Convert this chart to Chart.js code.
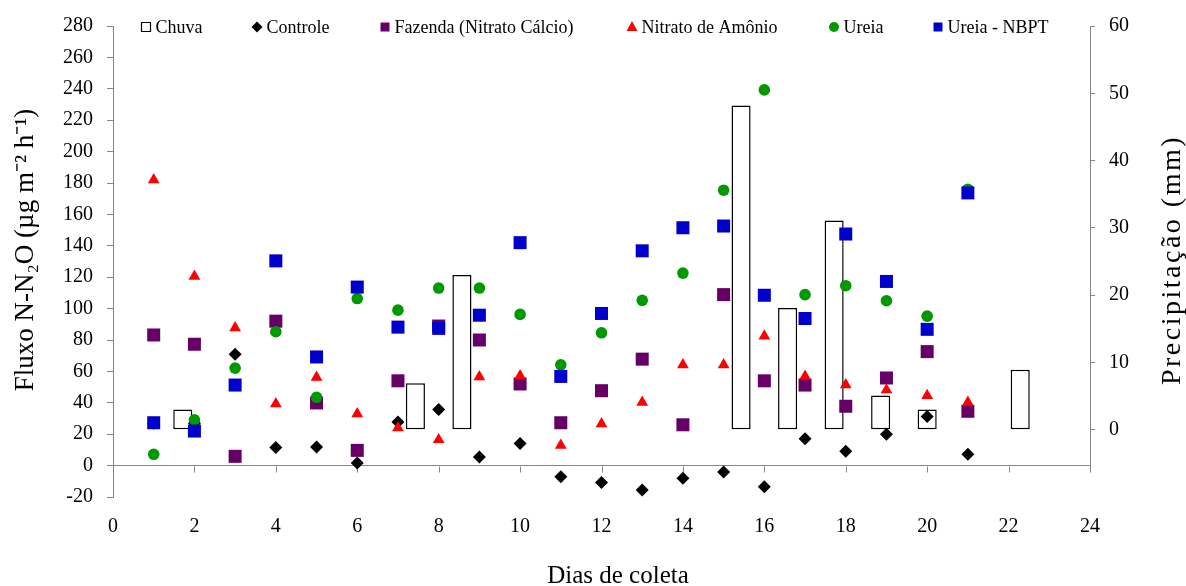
<!DOCTYPE html>
<html>
<head>
<meta charset="utf-8">
<script src="https://cdn.jsdelivr.net/npm/chart.js@4.4.1/dist/chart.umd.min.js"></script>
<style>
  html, body { margin: 0; padding: 0; background: #fff; }
</style>
</head>
<body>
<canvas id="chart" width="1186" height="586"></canvas>
<script>
// Fluxo de N2O por dia de coleta + chuva (eixo secundario)
const days = [1, 2, 3, 4, 5, 6, 7, 8, 9, 10, 11, 12, 13, 14, 15, 16, 17, 18, 19, 20, 21];

// precipitacao (mm), eixo direito
const chuva = [null, 3.0, null, null, null, null, 6.9, 23.0, null, null, null, null, null, 48.2, 18.1, 31.1, 5.1, 3.0, null, 8.9, null];

// fluxo N-N2O (ug m-2 h-1), eixo esquerdo
const controle = [27, 27, 71.0, 11.5, 11.8, 1.7, 27.7, 35.7, 5.5, 14.0, -7.1, -10.7, -15.6, -8.0, -4.0, -13.5, 17.1, 9.1, 19.9, 31.3, 7.2];
const fazenda = [83.2, 77.3, 5.9, 92.0, 39.9, 9.7, 54.0, 88.9, 80.0, 52.0, 27.3, 47.7, 67.8, 26.0, 108.9, 54.0, 51.3, 37.8, 55.8, 72.6, 34.6];
const nitratoAmonio = [182, 120.5, 87.8, 39.3, 56.2, 33.0, 24.1, 16.5, 56.6, 57.2, 12.9, 26.6, 40.3, 64.2, 64.2, 82.5, 56.8, 51.5, 48.2, 44.6, 40.3];
const ureia = [7.2, 29.2, 62.1, 85.3, 43.5, 106.4, 99.0, 113.1, 113.1, 96.3, 64.2, 84.6, 105.3, 122.6, 175.4, 239.3, 108.9, 114.6, 105.0, 95.2, 176.0];
const ureiaNbpt = [27.3, 22.0, 51.3, 130.4, 69.2, 113.7, 88.2, 87.4, 95.8, 142.0, 56.8, 96.9, 136.8, 151.5, 152.6, 108.5, 93.7, 147.5, 117.3, 86.8, 173.7];

const axisColor = '#868686';
const serif = "'Liberation Serif', 'Times New Roman', serif";
const tickFont = { family: serif, size: 20 };

const pts = vals => vals.map((v, i) => ({ x: days[i], y: v }));

// legend markers sit inside the plot, along the top edge
const legendX = [146, 257, 385, 632, 834, 938];
const legendY = 27;

function drawMarker(ctx, style, x, y, fill) {
  ctx.beginPath();
  if (style === 'box') {
    ctx.fillStyle = '#fff';
    ctx.strokeStyle = '#000';
    ctx.lineWidth = 1.2;
    ctx.rect(x - 4.5, y - 4.5, 9, 9);
    ctx.fill();
    ctx.stroke();
    return;
  }
  if (style === 'rect') ctx.rect(x - 4.5, y - 4.5, 9, 9);
  else if (style === 'rectRot') {
    ctx.moveTo(x - 5.5, y); ctx.lineTo(x, y - 5.5); ctx.lineTo(x + 5.5, y); ctx.lineTo(x, y + 5.5);
    ctx.closePath();
  } else if (style === 'triangle') {
    ctx.moveTo(x, y - 6); ctx.lineTo(x + 5.5, y + 4); ctx.lineTo(x - 5.5, y + 4);
    ctx.closePath();
  } else ctx.arc(x, y, 5, 0, Math.PI * 2);
  ctx.fillStyle = fill;
  ctx.fill();
}

// rotated text helper (reads bottom to top)
function vText(ctx, text, x, y, size, spacing) {
  ctx.save();
  ctx.translate(x, y);
  ctx.rotate(-Math.PI / 2);
  ctx.font = `${size}px ${serif}`;
  if (spacing) ctx.letterSpacing = spacing;
  ctx.fillStyle = '#000';
  ctx.textAlign = 'center';
  ctx.textBaseline = 'alphabetic';
  ctx.fillText(text, 0, 0);
  ctx.restore();
}

const extras = {
  id: 'extras',
  beforeDatasetsDraw(chart) {
    const { ctx, chartArea, scales } = chart;
    const y0 = Math.round(scales.y.getPixelForValue(0)) + 0.5;
    ctx.save();
    ctx.strokeStyle = axisColor;
    ctx.lineWidth = 1;
    ctx.beginPath();
    // tick marks hang from the zero line
    scales.x.ticks.forEach(t => {
      const px = Math.round(scales.x.getPixelForValue(t.value)) + 0.5;
      ctx.moveTo(px, y0);
      ctx.lineTo(px, y0 + 6);
    });
    // secondary axis line stops at the zero line
    const rx = Math.round(chartArea.right) + 0.5;
    ctx.moveTo(rx, chartArea.top);
    ctx.lineTo(rx, y0 + 2);
    ctx.stroke();
    ctx.restore();
  },
  afterDraw(chart) {
    const { ctx } = chart;
    // axis titles
    vText(ctx, 'Fluxo N-N₂O (µg m⁻² h⁻¹)', 33, 250, 27);
    vText(ctx, 'Precipitação (mm)', 1180, 260, 28, '2.5px');
    ctx.save();
    ctx.font = `25px ${serif}`;
    ctx.fillStyle = '#000';
    ctx.textAlign = 'center';
    ctx.textBaseline = 'alphabetic';
    ctx.fillText('Dias de coleta', 618, 583);
    ctx.restore();

    ctx.save();
    ctx.font = `18px ${serif}`;
    ctx.textBaseline = 'middle';
    chart.data.datasets.forEach((ds, i) => {
      const mx = legendX[i];
      drawMarker(ctx, ds.legendStyle, mx, legendY, ds.pointBackgroundColor);
      ctx.fillStyle = '#000';
      ctx.fillText(ds.label, mx + 9.5, legendY + 1);
    });
    ctx.restore();
  }
};

new Chart(document.getElementById('chart'), {
  type: 'scatter',
  data: {
    datasets: [
      {
        type: 'bar',
        label: 'Chuva',
        legendStyle: 'box',
        data: chuva.map(v => (v == null ? null : [0, v])),
        xAxisID: 'xBar',
        yAxisID: 'yR',
        backgroundColor: '#fff',
        borderColor: '#000',
        borderWidth: 1.5,
        borderSkipped: false,
        grouped: false,
        categoryPercentage: 1,
        barPercentage: 0.41,
        order: 5
      },
      {
        label: 'Controle',
        legendStyle: 'rectRot',
        data: pts(controle),
        pointStyle: 'rectRot',
        pointRadius: 6.5,
        pointBackgroundColor: '#000000',
        pointBorderWidth: 0,
        order: 4
      },
      {
        label: 'Fazenda (Nitrato Cálcio)',
        legendStyle: 'rect',
        data: pts(fazenda),
        pointStyle: 'rect',
        pointRadius: 9.2,
        pointBackgroundColor: '#660066',
        pointBorderWidth: 0,
        order: 3
      },
      {
        label: 'Nitrato de Amônio',
        legendStyle: 'triangle',
        data: pts(nitratoAmonio),
        pointStyle: 'triangle',
        pointRadius: 6.8,
        pointBackgroundColor: '#ff0000',
        pointBorderWidth: 0,
        order: 2
      },
      {
        label: 'Ureia',
        legendStyle: 'circle',
        data: pts(ureia),
        pointStyle: 'circle',
        pointRadius: 5.8,
        pointBackgroundColor: '#009900',
        pointBorderWidth: 0,
        order: 1
      },
      {
        label: 'Ureia - NBPT',
        legendStyle: 'rect',
        data: pts(ureiaNbpt),
        pointStyle: 'rect',
        pointRadius: 9.2,
        pointBackgroundColor: '#0000cc',
        pointBorderWidth: 0,
        order: 0
      }
    ]
  },
  options: {
    responsive: false,
    animation: false,
    events: [],
    layout: { padding: { top: 23, left: 0, right: 0, bottom: 0 } },
    plugins: {
      legend: { display: false },
      tooltip: { enabled: false }
    },
    scales: {
      x: {
        type: 'linear',
        position: 'bottom',
        min: 0,
        max: 24,
        ticks: { stepSize: 2, color: '#000', font: tickFont, padding: 18, maxRotation: 0 },
        grid: { display: false, drawTicks: false },
        border: { display: false },
        afterFit: s => { s.height = 89; }
      },
      xBar: {
        type: 'category',
        axis: 'x',
        labels: days.map(String),
        offset: true,
        display: false,
        grid: { offset: true }
      },
      y: {
        type: 'linear',
        position: 'left',
        min: -20,
        max: 280,
        ticks: { stepSize: 20, color: '#000', font: tickFont, padding: 14 },
        grid: {
          color: c => (c.tick && c.tick.value === 0 ? axisColor : 'rgba(0,0,0,0)'),
          tickColor: axisColor,
          tickLength: 6
        },
        border: { display: true, color: axisColor },
        afterFit: s => { s.width = 113; }
      },
      yR: {
        type: 'linear',
        position: 'right',
        axis: 'y',
        min: -10,
        max: 60,
        ticks: {
          stepSize: 10,
          color: '#000',
          font: tickFont,
          padding: 14,
          callback: v => (v < 0 ? '' : v)
        },
        grid: {
          drawOnChartArea: false,
          tickColor: c => (c.tick && c.tick.value < 0 ? 'rgba(0,0,0,0)' : axisColor),
          tickLength: 5
        },
        border: { display: false },
        afterFit: s => { s.width = 96; }
      }
    }
  },
  plugins: [extras]
});
</script>
</body>
</html>
